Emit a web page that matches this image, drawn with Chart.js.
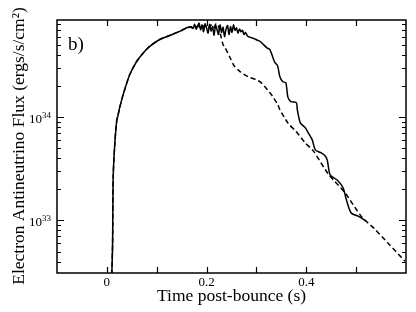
<!DOCTYPE html>
<html>
<head>
<meta charset="utf-8">
<script src="https://cdn.jsdelivr.net/npm/chart.js@4.4.1/dist/chart.umd.min.js"></script>
<style>
  html, body { margin: 0; padding: 0; background: #fff; }
  #wrap { width: 416px; height: 312px; }
</style>
</head>
<body>
<div id="wrap"><canvas id="c" width="416" height="312"></canvas></div>
<script>
// ---- data ----
const timeSolid = [0.009, 0.010, 0.0115, 0.0127, 0.016, 0.020, 0.0227, 0.0247, 0.0327, 0.046, 0.060, 0.073, 0.086, 0.106, 0.127, 0.147, 0.160,
  0.170, 0.173, 0.176, 0.179, 0.182, 0.185, 0.188, 0.191, 0.194, 0.197, 0.200, 0.203, 0.206, 0.209, 0.212, 0.215, 0.218, 0.221, 0.224, 0.227,
  0.230, 0.233, 0.236, 0.239, 0.242, 0.245, 0.248, 0.251, 0.254, 0.257, 0.260, 0.263, 0.266, 0.269, 0.272, 0.275, 0.278, 0.282,
  0.288, 0.295, 0.300, 0.307, 0.321, 0.327, 0.333, 0.337, 0.341, 0.343, 0.347,
  0.353, 0.359, 0.363, 0.369, 0.380, 0.382, 0.388, 0.398, 0.404, 0.412, 0.418, 0.430, 0.438, 0.442, 0.448, 0.462, 0.474, 0.480, 0.490, 0.504, 0.520];
const fluxSolid = [2.5e32, 3.08e32, 6.0e32, 2.63e33, 5.6e33, 9.4e33, 1.05e34, 1.18e34, 1.65e34, 2.58e34, 3.47e34, 4.18e34, 4.84e34, 5.63e34, 6.19e34, 6.78e34, 7.31e34,
  7.5e34, 7.2e34, 7.9e34, 7.1e34, 7.6e34, 8.1e34, 7.0e34, 7.8e34, 6.7e34, 8.0e34, 7.3e34, 6.5e34, 7.9e34, 6.8e34, 7.5e34, 6.2e34, 7.7e34, 7.0e34, 6.3e34, 7.8e34,
  6.6e34, 7.4e34, 6.0e34, 7.1e34, 7.7e34, 6.3e34, 7.5e34, 6.6e34, 7.8e34, 6.9e34, 7.3e34, 6.5e34, 7.1e34, 6.7e34, 6.9e34, 6.3e34, 6.6e34, 6.1e34,
  5.9e34, 5.75e34, 5.6e34, 5.42e34, 4.68e34, 4.5e34, 3.77e34, 3.37e34, 3.22e34, 3.08e34, 2.46e34,
  2.2e34, 2.15e34, 1.57e34, 1.41e34, 1.38e34, 1.18e34, 8.8e33, 7.88e33, 7.04e33, 6.02e33, 4.82e33, 4.5e33, 4.21e33, 3.85e33, 2.75e33, 2.46e33, 2.06e33, 1.61e33, 1.18e33, 1.10e33, 9.85e32];

const timeDashed = [0.009, 0.010, 0.0115, 0.0127, 0.016, 0.020, 0.0227, 0.0247, 0.0327, 0.046, 0.060, 0.073, 0.086, 0.106, 0.127, 0.147, 0.160,
  0.168, 0.175, 0.182, 0.189, 0.196, 0.203, 0.209, 0.214, 0.219, 0.223, 0.228, 0.233, 0.237, 0.247, 0.255, 0.263, 0.267, 0.283, 0.299, 0.307,
  0.317, 0.327, 0.333, 0.343, 0.347, 0.363, 0.380, 0.398, 0.414, 0.444, 0.478, 0.510, 0.538, 0.564, 0.598];
const fluxDashed = [2.5e32, 3.08e32, 6.0e32, 2.63e33, 5.6e33, 9.4e33, 1.05e34, 1.18e34, 1.65e34, 2.58e34, 3.47e34, 4.18e34, 4.84e34, 5.63e34, 6.19e34, 6.78e34, 7.31e34,
  7.4e34, 7.2e34, 7.6e34, 7.3e34, 7.7e34, 7.2e34, 7.8e34, 7.3e34, 8.0e34, 7.8e34, 6.3e34, 5.04e34, 4.71e34, 3.77e34, 3.15e34, 2.88e34, 2.75e34, 2.46e34, 2.3e34, 2.2e34,
  1.97e34, 1.72e34, 1.57e34, 1.32e34, 1.18e34, 8.8e33, 7.2e33, 5.63e33, 4.71e33, 2.82e33, 1.84e33, 1.1e33, 8.2e32, 6.03e32, 4.03e32];

const xTickValues = [0, 0.1, 0.2, 0.3, 0.4, 0.5];
const xTickLabels = ['0', '', '0.2', '', '0.4', ''];
const yMajorTicks = [1e33, 1e34];
const yLabelBase = ['10', '10'];
const yLabelExp = ['33', '34'];
const yMinorTicks = [4e32, 5e32, 6e32, 7e32, 8e32, 9e32, 2e33, 3e33, 4e33, 5e33, 6e33, 7e33, 8e33, 9e33, 2e34, 3e34, 4e34, 5e34, 6e34, 7e34, 8e34];

const xTitle = 'Time post-bounce (s)';
const yTitle = 'Electron Antineutrino Flux (ergs/s/cm\u00B2)';
const panelLabel = 'b)';

const SERIF = '"Liberation Serif", "Times New Roman", Times, serif';

const toPoints = (xs, ys) => xs.map((x, i) => ({ x: x, y: ys[i] }));

const framePlugin = {
  id: 'frame',
  beforeDraw(chart) {
    const ctx = chart.ctx;
    ctx.save();
    ctx.fillStyle = '#fff';
    ctx.fillRect(0, 0, chart.width, chart.height);
    ctx.restore();
  },
  afterDraw(chart) {
    const ctx = chart.ctx;
    const a = chart.chartArea;
    const xs = chart.scales.x, ys = chart.scales.y;
    ctx.save();
    ctx.strokeStyle = '#000';
    ctx.lineWidth = 1.5;
    ctx.strokeRect(a.left, a.top, a.right - a.left, a.bottom - a.top);
    ctx.lineWidth = 1.2;
    ctx.beginPath();
    xTickValues.forEach(v => {
      const px = Math.round(xs.getPixelForValue(v)) + 0.5;
      ctx.moveTo(px, a.bottom); ctx.lineTo(px, a.bottom - 6);
      ctx.moveTo(px, a.top); ctx.lineTo(px, a.top + 6);
    });
    yMajorTicks.forEach(v => {
      const py = Math.round(ys.getPixelForValue(v)) + 0.5;
      ctx.moveTo(a.left, py); ctx.lineTo(a.left + 7, py);
      ctx.moveTo(a.right, py); ctx.lineTo(a.right - 7, py);
    });
    yMinorTicks.forEach(v => {
      const py = Math.round(ys.getPixelForValue(v)) + 0.5;
      if (py < a.top || py > a.bottom) return;
      ctx.moveTo(a.left, py); ctx.lineTo(a.left + 4, py);
      ctx.moveTo(a.right, py); ctx.lineTo(a.right - 4, py);
    });
    ctx.stroke();

    // y tick labels: 10 with superscript exponent
    ctx.fillStyle = '#000';
    ctx.textBaseline = 'alphabetic';
    yMajorTicks.forEach((v, i) => {
      const py = ys.getPixelForValue(v);
      const right = a.left - 6;
      ctx.font = '9px ' + SERIF;
      const ew = ctx.measureText(yLabelExp[i]).width;
      ctx.textAlign = 'right';
      ctx.fillText(yLabelExp[i], right, py + 1);
      ctx.font = '13px ' + SERIF;
      ctx.fillText(yLabelBase[i], right - ew, py + 6);
    });

    // y axis title (drawn unsqueezed)
    ctx.font = '17.5px ' + SERIF;
    ctx.textAlign = 'center';
    ctx.textBaseline = 'middle';
    ctx.translate(19, 146);
    ctx.rotate(-Math.PI / 2);
    ctx.fillText(yTitle, 0, 0);
    ctx.restore();

    // panel label
    ctx.save();
    ctx.fillStyle = '#000';
    ctx.font = '19px ' + SERIF;
    ctx.textAlign = 'left';
    ctx.textBaseline = 'alphabetic';
    ctx.fillText(panelLabel, a.left + 11, a.top + 30);
    ctx.restore();
  }
};

new Chart(document.getElementById('c'), {
  type: 'line',
  data: {
    datasets: [
      {
        label: 'solid',
        data: toPoints(timeSolid, fluxSolid),
        borderColor: '#000',
        borderWidth: 1.5,
        pointRadius: 0,
        tension: 0.25,
        fill: false
      },
      {
        label: 'dashed',
        data: toPoints(timeDashed, fluxDashed),
        borderColor: '#000',
        borderWidth: 1.5,
        borderDash: [5, 3],
        pointRadius: 0,
        tension: 0.25,
        fill: false
      }
    ]
  },
  options: {
    responsive: false,
    animation: false,
    devicePixelRatio: 1,
    layout: { padding: { left: 0, right: 10, top: 20, bottom: 0 } },
    plugins: { legend: { display: false }, tooltip: { enabled: false } },
    scales: {
      x: {
        type: 'linear',
        min: -0.1,
        max: 0.6,
        grid: { display: false, drawTicks: false },
        border: { display: false },
        afterBuildTicks(scale) {
          scale.ticks = xTickValues.map(v => ({ value: v }));
        },
        afterFit(scale) { scale.height = 39; },
        ticks: {
          autoSkip: false,
          maxRotation: 0,
          padding: 2,
          color: '#000',
          font: { family: SERIF, size: 13 },
          callback(value) {
            const i = xTickValues.findIndex(v => Math.abs(v - value) < 1e-9);
            return i >= 0 ? xTickLabels[i] : '';
          }
        },
        title: {
          display: true,
          text: xTitle,
          color: '#000',
          font: { family: SERIF, size: 17.5 },
          padding: { top: 0, bottom: 5 }
        }
      },
      y: {
        type: 'logarithmic',
        min: 3.1e32,
        max: 8.7e34,
        grid: { display: false, drawTicks: false },
        border: { display: false },
        afterBuildTicks(scale) {
          scale.ticks = yMajorTicks.map(v => ({ value: v, major: true }));
        },
        afterFit(scale) { scale.width = 57; },
        ticks: { display: false }
      }
    }
  },
  plugins: [framePlugin]
});
</script>
</body>
</html>
